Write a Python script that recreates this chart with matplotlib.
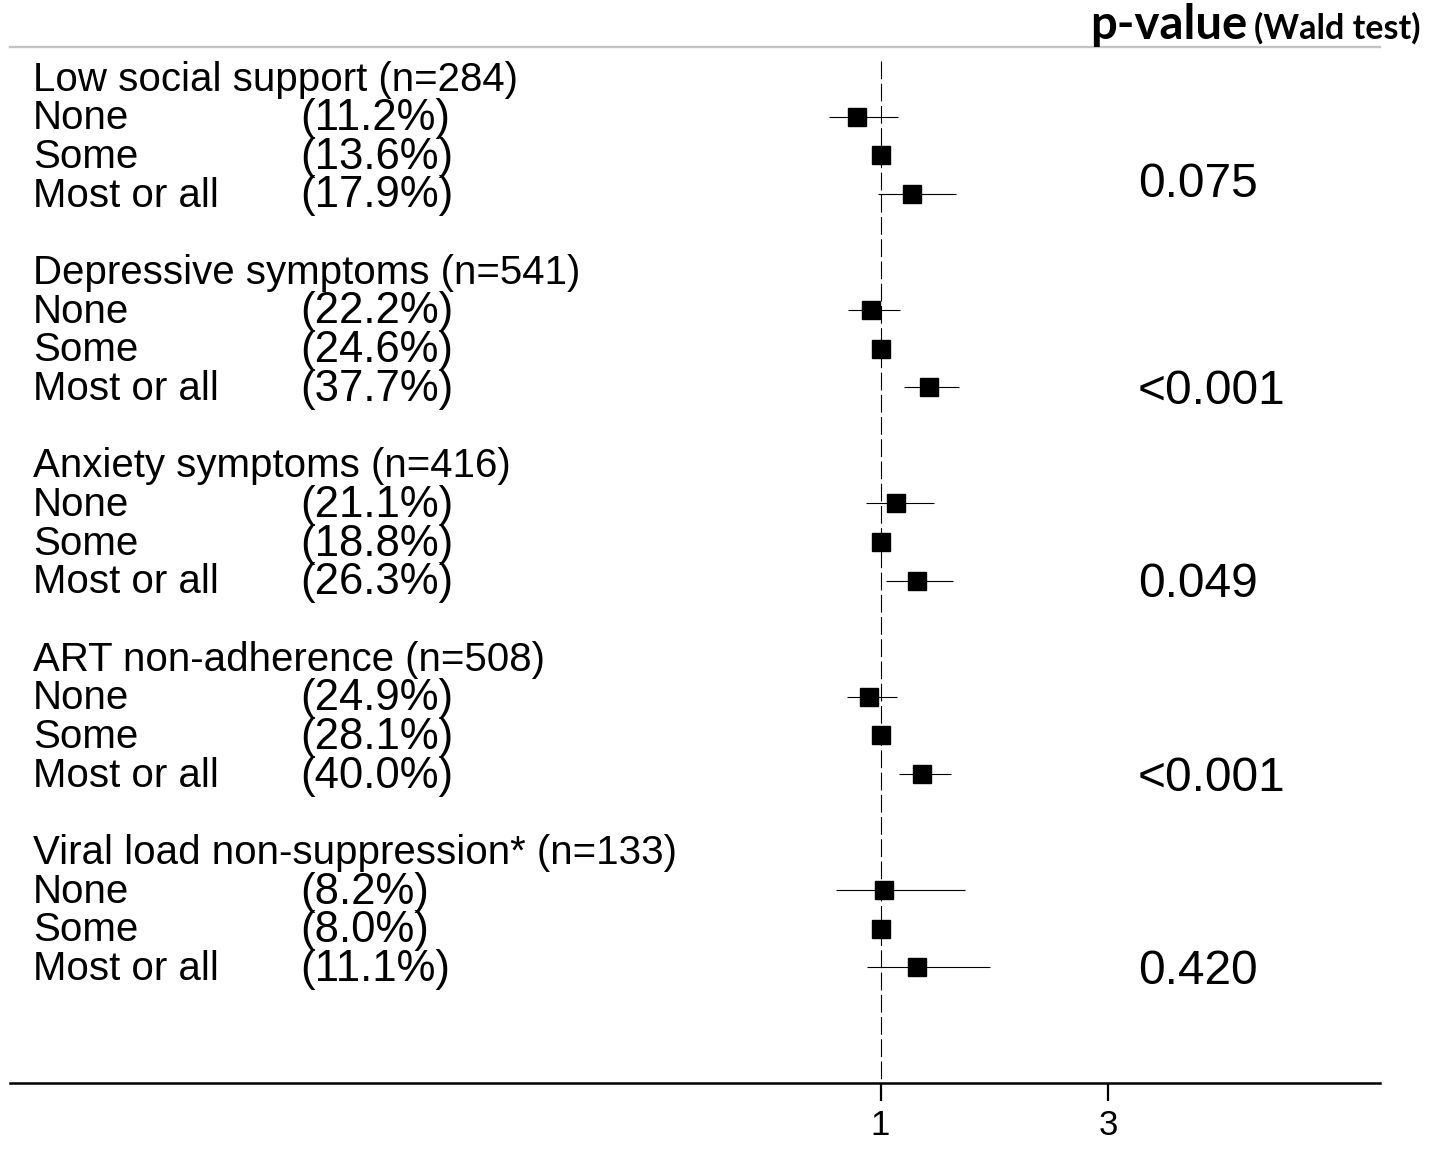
import matplotlib
matplotlib.use("Agg")
import matplotlib.pyplot as plt
import numpy as np
from matplotlib.transforms import blended_transform_factory
from matplotlib.ticker import NullLocator, FixedLocator, FixedFormatter

# ---------------- data ----------------
groups = ["Low social support (n=284)",
          "Depressive symptoms (n=541)",
          "Anxiety symptoms (n=416)",
          "ART non-adherence (n=508)",
          "Viral load non-suppression* (n=133)"]
levels = ["None", "Some", "Most or all"]
prevalence = [["(11.2%)", "(13.6%)", "(17.9%)"],
              ["(22.2%)", "(24.6%)", "(37.7%)"],
              ["(21.1%)", "(18.8%)", "(26.3%)"],
              ["(24.9%)", "(28.1%)", "(40.0%)"],
              ["(8.2%)", "(8.0%)", "(11.1%)"]]
ratio = [[0.892, 1.0, 1.161],
         [0.954, 1.0, 1.265],
         [1.075, 1.0, 1.190],
         [0.948, 1.0, 1.223],
         [1.016, 1.0, 1.190]]
ci_low = [[0.779, np.nan, 0.986],
          [0.856, np.nan, 1.119],
          [0.932, np.nan, 1.029],
          [0.852, np.nan, 1.092],
          [0.808, np.nan, 0.938]]
ci_high = [[1.089, np.nan, 1.436],
           [1.098, np.nan, 1.462],
           [1.293, np.nan, 1.417],
           [1.085, np.nan, 1.406],
           [1.501, np.nan, 1.697]]
pvalues = ["0.075", "<0.001", "0.049", "<0.001", "0.420"]
pvalue_rows = [2.66, 8.0, 13.0, 18.0, 23.0]
xticks = [1, 3]
xticklabels = ["1", "3"]

# ---------------- figure ----------------
W, H = 1429, 1149
fig = plt.figure(figsize=(W / 100, H / 100), dpi=100)
fig.patch.set_facecolor("white")
ax = fig.add_axes([10 / W, 1 - 1083 / H, 1370 / W, (1083 - 47) / H])
ax.set_xscale("log")
ax.set_xlim(0.01504, 11.11)
ax.set_ylim(25.99, -0.80)

font = "Liberation Sans"
trans = blended_transform_factory(ax.transAxes, ax.transData)

# reference line
ax.plot([1, 1], [-0.45, 25.99], color="black", lw=0.8, dashes=(16, 4), zorder=1)

for g, name in enumerate(groups):
    hrow = 5 * g
    ax.text(0.0168, hrow + 0.33, name, transform=trans, fontsize=29,
            family=font, va="baseline", ha="left")
    for k, lev in enumerate(levels):
        row = hrow + 1 + k
        ax.text(0.0168, row + 0.33, lev, transform=trans, fontsize=29,
                family=font, va="baseline", ha="left")
        ax.text(0.2117, row + 0.35, prevalence[g][k], transform=trans,
                fontsize=31.5, family=font, va="baseline", ha="left")
        if not np.isnan(ci_low[g][k]):
            ax.plot([ci_low[g][k], ci_high[g][k]], [row, row], color="black",
                    lw=0.8, zorder=2, solid_capstyle="butt")
        ax.plot([ratio[g][k]], [row], marker="s", markersize=13.5,
                color="black", zorder=3, linestyle="none")
    ax.text(0.8234, pvalue_rows[g] + 0.43, pvalues[g], transform=trans,
            fontsize=34.5, family=font, va="baseline", ha="left")

# axes styling
for s in ["left", "right"]:
    ax.spines[s].set_visible(False)
ax.spines["top"].set_color("#c4c4c4")
ax.spines["top"].set_linewidth(1.7)
ax.spines["bottom"].set_linewidth(1.8)
ax.set_yticks([])
ax.xaxis.set_major_locator(FixedLocator(xticks))
ax.xaxis.set_major_formatter(FixedFormatter(xticklabels))
ax.xaxis.set_minor_locator(NullLocator())
ax.tick_params(axis="x", length=13, width=1.6, pad=6, labelsize=25)
for lab in ax.get_xticklabels():
    lab.set_family(font)

# header
fig.text(1090 / W, 1 - 39 / H, "p-value", fontsize=34, fontweight="bold",
         family="Lato", ha="left", va="baseline")
fig.text(1420 / W, 1 - 39 / H, "(Wald test)", fontsize=24.5, fontweight="bold",
         family="Lato", ha="right", va="baseline")

fig.savefig("out.png", dpi=100, facecolor="white")
